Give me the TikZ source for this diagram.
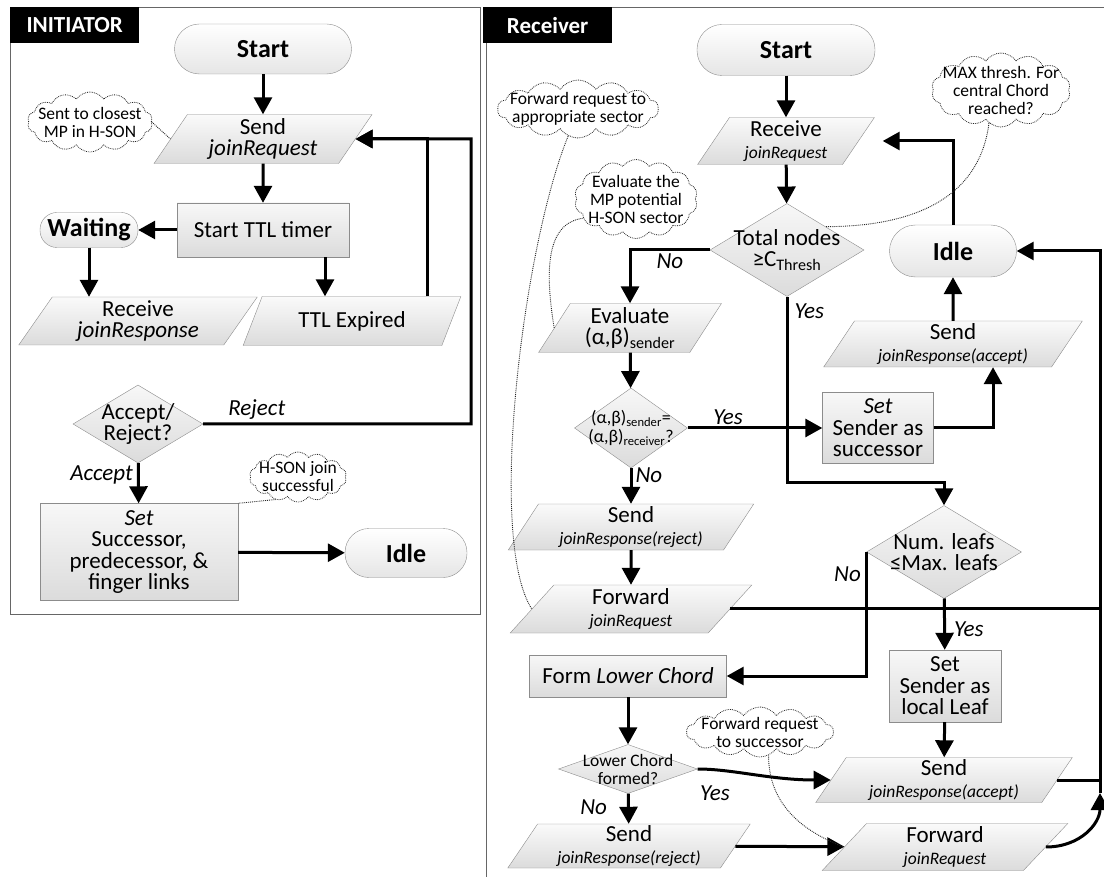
\documentclass[tikz,border=0pt]{standalone}
\usepackage{fontspec}
\setmainfont{Carlito}
\usetikzlibrary{shapes.geometric,shapes.symbols,arrows.meta}
\newcommand\smsg[1]{{\fontsize{17.5}{18}\selectfont\itshape #1}}
\begin{document}
\begin{tikzpicture}[x=1pt,y=-1pt,
  every node/.style={font=\fontsize{23}{21.5}\selectfont, align=center, inner sep=0pt},
  term/.style={rectangle, rounded corners=#1, draw=black!45, top color=white, bottom color=black!10, font=\fontsize{26}{28}\selectfont\bfseries},
  proc/.style={rectangle, draw=black!45, top color=black!3, bottom color=black!14},
  io/.style={trapezium, trapezium left angle=60, trapezium right angle=120, trapezium stretches=true, draw=black!45, top color=black!2, bottom color=black!14},
  dec/.style={diamond, draw=black!45, top color=black!3, bottom color=black!14},
  note/.style={cloud, cloud puffs=14, cloud puff arc=110, cloud ignores aspect, draw=black!85, densely dotted, line width=0.8pt},
  notetext/.style={font=\fontsize{17.5}{18}\selectfont},
  tab/.style={fill=black, text=white, font=\fontsize{23}{24}\selectfont\bfseries, anchor=north west, minimum width=129, minimum height=36},
  flow/.style={line width=3pt, -{Triangle[length=17pt,width=18pt]}},
  link/.style={line width=3pt},
  noteline/.style={densely dotted, draw=black!85, line width=0.9pt},
  lbl/.style={font=\fontsize{23}{24}\selectfont\itshape}]
\useasboundingbox (0,0) rectangle (1104,877);
% initiator
\draw[black!60] (10,7) rectangle (480,614);
\node[tab] (itab) at (10,7) {INITIATOR};
\node[term=25, minimum width=177, minimum height=50] (lstart) at (263,49) {Start};
\node[io, minimum width=218, minimum height=49] (lsend) at (263,139) {Send\\\textit{joinRequest}};
\node[proc, minimum width=172, minimum height=54] (ltimer) at (263,230) {Start TTL timer};
\node[term=17, minimum width=98, minimum height=35] (lwait) at (89,230) {Waiting};
\node[io, minimum width=239, minimum height=48] (lrecv) at (138,321) {Receive\\\textit{joinResponse}};
\node[io, minimum width=218, minimum height=49] (lexp) at (352,321) {TTL Expired};
\node[dec, minimum width=130, minimum height=78, label={center:{Accept/\\Reject?}}] (ldec) at (138,424) {};
\node[proc, minimum width=198, minimum height=97] (lset) at (139,552) {\textit{Set}\\Successor,\\predecessor, \&\\finger links};
\node[term=24, minimum width=122, minimum height=49] (lidle) at (406,553) {Idle};
\node[note, minimum width=125, minimum height=60, label={[notetext]center:{Sent to closest\\MP in H-SON}}] (lnote1) at (90,122) {};
\node[note, minimum width=97, minimum height=50, label={[notetext]center:{H-SON join\\successful}}] (lnote2) at (298,477) {};
\coordinate (lloop) at (471,139);
\draw[flow] (lstart) -- (lsend);
\draw[flow] (lsend) -- (ltimer);
\draw[flow] (ltimer) -- (lwait);
\draw[flow] (lwait.south) -- (lwait.south |- lrecv.north);
\draw[flow] ([xshift=62pt]ltimer.south) -- ([xshift=62pt]ltimer.south |- lexp.north);
\draw[flow] ([xshift=75pt]lexp.north) |- (lsend.east);
\draw[flow] (ldec.east) -| node[lbl, pos=0.1, above=3pt] {Reject} (lloop) -- (lsend.east);
\draw[flow] (ldec) -- node[lbl, pos=0.3, left=4pt] {Accept} (lset);
\draw[flow] (lset) -- (lidle);
\draw[noteline] (lnote1.east) -- (lsend.west);
\draw[noteline] (lnote2.225) -- (lset.north east);
% receiver
\draw[black!60] (1104,7) -- (486,7) -- (486,877);
\node[tab] (rtab) at (483,7) {Receiver};
\node[term=25, minimum width=178, minimum height=51] (rstart) at (786,50) {Start};
\node[io, minimum width=177, minimum height=47] (rrecv) at (786,141) {Receive\\\smsg{joinRequest}};
\node[dec, minimum width=154, minimum height=93, label={center:{Total nodes\\≥C\textsubscript{Thresh}}}] (rtotal) at (787,250) {};
\node[term=26, minimum width=127, minimum height=52] (ridle) at (953,251) {Idle};
\node[io, minimum width=183, minimum height=49] (reval) at (630,328) {Evaluate\\(α,β)\textsubscript{sender}};
\node[dec, minimum width=113, minimum height=80, label={[font=\fontsize{18}{19}\selectfont]center:{(α,β)\textsubscript{sender}=\\(α,β)\textsubscript{receiver}?}}] (rsame) at (631,428) {};
\node[proc, minimum width=111, minimum height=71] (rsucc) at (878,428) {\textit{Set}\\Sender as\\successor};
\node[io, minimum width=259, minimum height=46] (racc1) at (953,344) {Send\\\smsg{joinResponse(accept)}};
\node[io, minimum width=246, minimum height=46] (rrej1) at (631,527) {Send\\\smsg{joinResponse(reject)}};
\node[io, minimum width=242, minimum height=48] (rfwd1) at (631,609) {Forward\\\smsg{joinRequest}};
\node[dec, minimum width=155, minimum height=93, label={center:{Num. leafs\\≤Max. leafs}}] (rleaf) at (944,552) {};
\node[proc, minimum width=112, minimum height=72] (rlocal) at (945,686) {Set\\Sender as\\local Leaf};
\node[proc, minimum width=197, minimum height=42] (rform) at (628,676) {Form \textit{Lower Chord}};
\node[dec, minimum width=139, minimum height=49, label={[notetext]center:{Lower Chord\\formed?}}] (rlow) at (628,769) {};
\node[io, minimum width=257, minimum height=45] (racc2) at (944,780) {Send\\\smsg{joinResponse(accept)}};
\node[io, minimum width=243, minimum height=44] (rrej2) at (629,846) {Send\\\smsg{joinResponse(reject)}};
\node[io, minimum width=246, minimum height=47] (rfwd2) at (945,847) {Forward\\\smsg{joinRequest}};
\node[note, minimum width=161, minimum height=58, label={[notetext]center:{Forward request to\\appropriate sector}}] (rnote1) at (578,109) {};
\node[note, minimum width=123, minimum height=79, label={[notetext]center:{Evaluate the\\MP potential\\H-SON sector}}] (rnote2) at (636,199) {};
\node[note, minimum width=139, minimum height=74, label={[notetext]center:{MAX thresh. For\\central Chord\\reached?}}] (rnote3) at (1001,90) {};
\node[note, minimum width=147, minimum height=50, label={[notetext]center:{Forward request\\to successor}}] (rnote4) at (760,732) {};
\node[lbl] (ryes) at (715,793) {Yes};
\coordinate (rrail) at (1100,251);
\coordinate (rjoin) at (1100,793);
\draw[flow] (rstart) -- (rrecv);
\draw[flow] (rrecv) -- (rtotal);
\draw[flow] (rtotal.west) -| node[lbl, pos=0.25, below=2pt] {No} (reval.north);
\draw[flow] (rtotal.south) |- node[lbl, pos=0.04, right=6pt] {Yes} ([yshift=23pt]rleaf.north) -- (rleaf.north);
\draw[flow, shorten >=24pt] (ridle.north) |- (rrecv.east);
\draw[flow] (reval) -- (rsame);
\draw[flow] (rsame) -- node[lbl, pos=0.3, above=2pt] {Yes} (rsucc);
\draw[flow] (rsucc.east) -| ([xshift=40pt]racc1.south);
\draw[flow] (racc1) -- (ridle);
\draw[flow] (rsame) -- node[lbl, pos=0.2, right=3pt] {No} (rrej1);
\draw[flow] (rrej1) -- (rfwd1);
\draw[link] (rfwd1.east) -- (rfwd1.east -| rrail);
\draw[flow] (rjoin) -- (rrail) -- (ridle.east);
\draw[flow] (rleaf) -- node[lbl, pos=0.6, right=8pt] {Yes} (rlocal);
\draw[flow] (rleaf.west) |- node[lbl, pos=0.09, left=4pt] {No} (rform.east);
\draw[flow] (rlocal) -- (racc2);
\draw[link] (racc2.east) -- (racc2.east -| rrail);
\draw[flow] (rfwd2.east) .. controls +(35,0) and +(0,30) .. (rjoin);
\draw[flow] (rform) -- (rlow);
\draw[flow] (rlow.east) .. controls +(35,0) and +(-60,0) .. (racc2.west);
\draw[flow] (rlow) -- node[lbl, pos=0.45, left=20pt] {No} (rrej2);
\draw[flow] (rrej2) -- (rfwd2);
\draw[noteline] (rnote1.250) .. controls +(-45,110) and +(-45,-70) .. (rfwd1.west);
\draw[noteline] (rnote2.200) .. controls +(-40,5) and +(-8,-50) .. (reval.west);
\draw[noteline] (rnote3.250) .. controls +(-10,80) and +(80,0) .. (rtotal.north east);
\draw[noteline] (rnote4.290) .. controls +(0,50) and +(-40,-15) .. (rfwd2.west);
\end{tikzpicture}
\end{document}
